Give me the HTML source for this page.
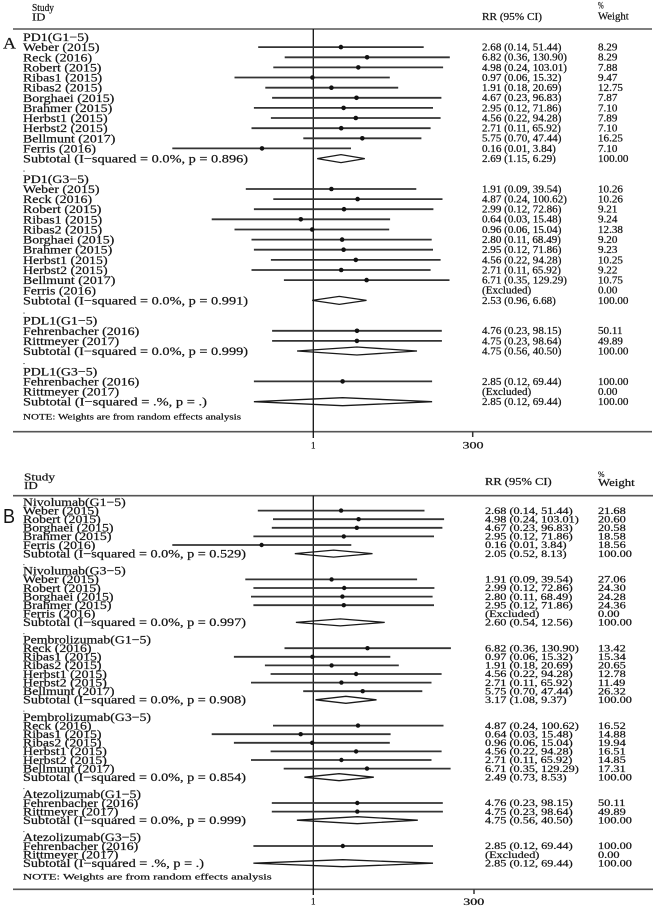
<!DOCTYPE html>
<html><head><meta charset="utf-8">
<style>
html,body{margin:0;padding:0;background:#fff;}
svg{display:block;}
.s{font-family:"Liberation Serif",serif;fill:#141414;stroke:#141414;stroke-width:0.22px;}
.l{font-size:12px;}
.lb{font-size:11.5px;}
.r{font-size:10px;}
.rb{font-size:9.5px;}
.ci{stroke:#333;stroke-width:1.8;}
.dm{fill:none;stroke:#1a1a1a;stroke-width:1.3;}
.rule{stroke:#555;stroke-width:1.6;}
</style></head>
<body>
<svg width="657" height="909" viewBox="0 0 657 909" xmlns="http://www.w3.org/2000/svg">
<rect width="657" height="909" fill="#fff"/>

<!-- ================= PANEL A ================= -->
<text class="s" x="3" y="48.5" font-size="16" textLength="13" lengthAdjust="spacingAndGlyphs">A</text>
<text class="s" x="32" y="11" font-size="11" textLength="22" lengthAdjust="spacingAndGlyphs">Study</text>
<text class="s" x="32" y="20.5" font-size="11" textLength="13.3" lengthAdjust="spacingAndGlyphs">ID</text>
<text class="s" x="482" y="20" font-size="10" textLength="60" lengthAdjust="spacingAndGlyphs">RR (95% CI)</text>
<text class="s" x="598" y="8.5" font-size="9" textLength="5.7" lengthAdjust="spacingAndGlyphs">%</text>
<text class="s" x="598" y="19.5" font-size="10" textLength="30.7" lengthAdjust="spacingAndGlyphs">Weight</text>

<line class="rule" x1="13" y1="29" x2="652" y2="29"/>
<line class="rule" x1="13" y1="431.7" x2="652" y2="431.7"/>
<line x1="313.3" y1="29" x2="313.3" y2="438" stroke="#111" stroke-width="1.3"/>
<line x1="472.7" y1="431.7" x2="472.7" y2="437" stroke="#333" stroke-width="1.5"/>
<text class="s" x="313.3" y="448.5" font-size="9" text-anchor="middle">1</text>
<text class="s" x="462.5" y="448.5" font-size="9" textLength="21" lengthAdjust="spacingAndGlyphs">300</text>

<g transform="translate(23,0) scale(1.16,1)">
<text class="s l" x="0" y="41">PD1(G1−5)</text>
<text class="s l" x="0" y="51.1">Weber (2015)</text>
<text class="s l" x="0" y="61.3">Reck (2016)</text>
<text class="s l" x="0" y="71.4">Robert (2015)</text>
<text class="s l" x="0" y="81.5">Ribas1 (2015)</text>
<text class="s l" x="0" y="91.7">Ribas2 (2015)</text>
<text class="s l" x="0" y="101.8">Borghaei (2015)</text>
<text class="s l" x="0" y="111.9">Brahmer (2015)</text>
<text class="s l" x="0" y="122">Herbst1 (2015)</text>
<text class="s l" x="0" y="132.2">Herbst2 (2015)</text>
<text class="s l" x="0" y="142.3">Bellmunt (2017)</text>
<text class="s l" x="0" y="152.4">Ferris (2016)</text>
<text class="s l" x="0" y="162.6" textLength="194" lengthAdjust="spacingAndGlyphs">Subtotal  (I−squared = 0.0%, p = 0.896)</text>
<text class="s" x="0" y="171.5" font-size="7">.</text>
<text class="s l" x="0" y="182.8">PD1(G3−5)</text>
<text class="s l" x="0" y="193">Weber (2015)</text>
<text class="s l" x="0" y="203.1">Reck (2016)</text>
<text class="s l" x="0" y="213.2">Robert (2015)</text>
<text class="s l" x="0" y="223.3">Ribas1 (2015)</text>
<text class="s l" x="0" y="233.5">Ribas2 (2015)</text>
<text class="s l" x="0" y="243.6">Borghaei (2015)</text>
<text class="s l" x="0" y="253.7">Brahmer (2015)</text>
<text class="s l" x="0" y="263.9">Herbst1 (2015)</text>
<text class="s l" x="0" y="274">Herbst2 (2015)</text>
<text class="s l" x="0" y="284.1">Bellmunt (2017)</text>
<text class="s l" x="0" y="294.3">Ferris (2016)</text>
<text class="s l" x="0" y="304.4" textLength="194" lengthAdjust="spacingAndGlyphs">Subtotal  (I−squared = 0.0%, p = 0.991)</text>
<text class="s" x="0" y="313.5" font-size="7">.</text>
<text class="s l" x="0" y="324.6">PDL1(G1−5)</text>
<text class="s l" x="0" y="334.8">Fehrenbacher (2016)</text>
<text class="s l" x="0" y="344.9">Rittmeyer (2017)</text>
<text class="s l" x="0" y="355" textLength="194" lengthAdjust="spacingAndGlyphs">Subtotal  (I−squared = 0.0%, p = 0.999)</text>
<text class="s" x="0" y="364" font-size="7">.</text>
<text class="s l" x="0" y="375.3">PDL1(G3−5)</text>
<text class="s l" x="0" y="385.4">Fehrenbacher (2016)</text>
<text class="s l" x="0" y="395.6">Rittmeyer (2017)</text>
<text class="s l" x="0" y="405.7" textLength="158.6" lengthAdjust="spacingAndGlyphs">Subtotal  (I−squared = .%, p = .)</text>
</g>
<text class="s" x="23" y="419.5" font-size="8.5" textLength="218" lengthAdjust="spacingAndGlyphs">NOTE: Weights are from random effects analysis</text>

<g transform="translate(482,0) scale(1.11,1)">
<text class="s r" x="0" y="50.5">2.68 (0.14, 51.44)</text>
<text class="s r" x="0" y="60.7">6.82 (0.36, 130.90)</text>
<text class="s r" x="0" y="70.8">4.98 (0.24, 103.01)</text>
<text class="s r" x="0" y="80.9">0.97 (0.06, 15.32)</text>
<text class="s r" x="0" y="91.1">1.91 (0.18, 20.69)</text>
<text class="s r" x="0" y="101.2">4.67 (0.23, 96.83)</text>
<text class="s r" x="0" y="111.3">2.95 (0.12, 71.86)</text>
<text class="s r" x="0" y="121.4">4.56 (0.22, 94.28)</text>
<text class="s r" x="0" y="131.6">2.71 (0.11, 65.92)</text>
<text class="s r" x="0" y="141.7">5.75 (0.70, 47.44)</text>
<text class="s r" x="0" y="151.8">0.16 (0.01, 3.84)</text>
<text class="s r" x="0" y="162">2.69 (1.15, 6.29)</text>
<text class="s r" x="0" y="192.4">1.91 (0.09, 39.54)</text>
<text class="s r" x="0" y="202.5">4.87 (0.24, 100.62)</text>
<text class="s r" x="0" y="212.6">2.99 (0.12, 72.86)</text>
<text class="s r" x="0" y="222.7">0.64 (0.03, 15.48)</text>
<text class="s r" x="0" y="232.9">0.96 (0.06, 15.04)</text>
<text class="s r" x="0" y="243">2.80 (0.11, 68.49)</text>
<text class="s r" x="0" y="253.1">2.95 (0.12, 71.86)</text>
<text class="s r" x="0" y="263.3">4.56 (0.22, 94.28)</text>
<text class="s r" x="0" y="273.4">2.71 (0.11, 65.92)</text>
<text class="s r" x="0" y="283.5">6.71 (0.35, 129.29)</text>
<text class="s r" x="0" y="293.7">(Excluded)</text>
<text class="s r" x="0" y="303.8">2.53 (0.96, 6.68)</text>
<text class="s r" x="0" y="334.2">4.76 (0.23, 98.15)</text>
<text class="s r" x="0" y="344.3">4.75 (0.23, 98.64)</text>
<text class="s r" x="0" y="354.4">4.75 (0.56, 40.50)</text>
<text class="s r" x="0" y="384.8">2.85 (0.12, 69.44)</text>
<text class="s r" x="0" y="395">(Excluded)</text>
<text class="s r" x="0" y="405.1">2.85 (0.12, 69.44)</text>
</g>
<g transform="translate(598,0) scale(1.11,1)">
<text class="s r" x="0" y="50.5">8.29</text>
<text class="s r" x="0" y="60.7">8.29</text>
<text class="s r" x="0" y="70.8">7.88</text>
<text class="s r" x="0" y="80.9">9.47</text>
<text class="s r" x="0" y="91.1">12.75</text>
<text class="s r" x="0" y="101.2">7.87</text>
<text class="s r" x="0" y="111.3">7.10</text>
<text class="s r" x="0" y="121.4">7.89</text>
<text class="s r" x="0" y="131.6">7.10</text>
<text class="s r" x="0" y="141.7">16.25</text>
<text class="s r" x="0" y="151.8">7.10</text>
<text class="s r" x="0" y="162">100.00</text>
<text class="s r" x="0" y="192.4">10.26</text>
<text class="s r" x="0" y="202.5">10.26</text>
<text class="s r" x="0" y="212.6">9.21</text>
<text class="s r" x="0" y="222.7">9.24</text>
<text class="s r" x="0" y="232.9">12.38</text>
<text class="s r" x="0" y="243">9.20</text>
<text class="s r" x="0" y="253.1">9.23</text>
<text class="s r" x="0" y="263.3">10.25</text>
<text class="s r" x="0" y="273.4">9.22</text>
<text class="s r" x="0" y="283.5">10.75</text>
<text class="s r" x="0" y="293.7">0.00</text>
<text class="s r" x="0" y="303.8">100.00</text>
<text class="s r" x="0" y="334.2">50.11</text>
<text class="s r" x="0" y="344.3">49.89</text>
<text class="s r" x="0" y="354.4">100.00</text>
<text class="s r" x="0" y="384.8">100.00</text>
<text class="s r" x="0" y="395">0.00</text>
<text class="s r" x="0" y="405.1">100.00</text>
</g>

<!-- CI lines A -->
<g class="ci">
<line x1="258.2" y1="47.1" x2="423.7" y2="47.1"/>
<line x1="284.7" y1="57.3" x2="449.8" y2="57.3"/>
<line x1="273.3" y1="67.4" x2="443.1" y2="67.4"/>
<line x1="234.5" y1="77.5" x2="389.8" y2="77.5"/>
<line x1="265.3" y1="87.7" x2="398.2" y2="87.7"/>
<line x1="272.1" y1="97.8" x2="441.4" y2="97.8"/>
<line x1="253.9" y1="107.9" x2="433.0" y2="107.9"/>
<line x1="270.9" y1="118.0" x2="440.6" y2="118.0"/>
<line x1="251.5" y1="128.2" x2="430.6" y2="128.2"/>
<line x1="303.3" y1="138.3" x2="421.4" y2="138.3"/>
<line x1="172.3" y1="148.4" x2="351.0" y2="148.4"/>
<line x1="245.8" y1="189.0" x2="416.3" y2="189.0"/>
<line x1="273.3" y1="199.1" x2="442.5" y2="199.1"/>
<line x1="253.9" y1="209.2" x2="433.4" y2="209.2"/>
<line x1="211.7" y1="219.3" x2="390.1" y2="219.3"/>
<line x1="234.5" y1="229.5" x2="389.2" y2="229.5"/>
<line x1="251.5" y1="239.6" x2="431.7" y2="239.6"/>
<line x1="253.9" y1="249.7" x2="433.0" y2="249.7"/>
<line x1="270.9" y1="259.9" x2="440.6" y2="259.9"/>
<line x1="251.5" y1="270.0" x2="430.6" y2="270.0"/>
<line x1="283.9" y1="280.1" x2="449.5" y2="280.1"/>
<line x1="272.1" y1="330.8" x2="441.8" y2="330.8"/>
<line x1="272.1" y1="340.9" x2="441.9" y2="340.9"/>
<line x1="253.9" y1="381.4" x2="432.1" y2="381.4"/>
</g>
<g fill="#111">
<circle cx="340.9" cy="47.1" r="2.3"/>
<circle cx="367.1" cy="57.3" r="2.3"/>
<circle cx="358.3" cy="67.4" r="2.3"/>
<circle cx="312.4" cy="77.5" r="2.3"/>
<circle cx="331.4" cy="87.7" r="2.3"/>
<circle cx="356.5" cy="97.8" r="2.3"/>
<circle cx="343.6" cy="107.9" r="2.3"/>
<circle cx="355.8" cy="118.0" r="2.3"/>
<circle cx="341.2" cy="128.2" r="2.3"/>
<circle cx="362.3" cy="138.3" r="2.3"/>
<circle cx="262.0" cy="148.4" r="2.3"/>
<circle cx="331.4" cy="189.0" r="2.3"/>
<circle cx="357.6" cy="199.1" r="2.3"/>
<circle cx="344.0" cy="209.2" r="2.3"/>
<circle cx="300.8" cy="219.3" r="2.3"/>
<circle cx="312.2" cy="229.5" r="2.3"/>
<circle cx="342.1" cy="239.6" r="2.3"/>
<circle cx="343.6" cy="249.7" r="2.3"/>
<circle cx="355.8" cy="259.9" r="2.3"/>
<circle cx="341.2" cy="270.0" r="2.3"/>
<circle cx="366.6" cy="280.1" r="2.3"/>
<circle cx="357.0" cy="330.8" r="2.3"/>
<circle cx="356.9" cy="340.9" r="2.3"/>
<circle cx="342.6" cy="381.4" r="2.3"/>
</g>
<g class="dm">
<polygon points="317.2,158.6 341.0,154.6 364.8,158.6 341.0,162.6"/>
<polygon points="312.2,300.4 339.3,296.4 366.5,300.4 339.3,304.4"/>
<polygon points="297.1,351.0 356.9,347.0 417.0,351.0 356.9,355.0"/>
<polygon points="253.9,401.7 342.6,397.7 432.1,401.7 342.6,405.7"/>
</g>

<!-- ================= PANEL B ================= -->
<text x="3" y="523" font-family="Liberation Sans, sans-serif" font-size="20" fill="#141414" textLength="12" lengthAdjust="spacingAndGlyphs">B</text>
<text class="s" x="24" y="480.7" font-size="11" textLength="31" lengthAdjust="spacingAndGlyphs">Study</text>
<text class="s" x="24" y="489" font-size="11" textLength="13.7" lengthAdjust="spacingAndGlyphs">ID</text>
<text class="s" x="485" y="485" font-size="10" textLength="66.7" lengthAdjust="spacingAndGlyphs">RR (95% CI)</text>
<text class="s" x="598" y="477" font-size="8.5" textLength="6.5" lengthAdjust="spacingAndGlyphs">%</text>
<text class="s" x="598" y="486" font-size="10" textLength="36.7" lengthAdjust="spacingAndGlyphs">Weight</text>

<line class="rule" x1="13" y1="495.7" x2="653" y2="495.7"/>
<line class="rule" x1="13" y1="889.3" x2="653" y2="889.3"/>
<line x1="313.3" y1="495.7" x2="313.3" y2="895" stroke="#111" stroke-width="1.3"/>
<line x1="474" y1="889.3" x2="474" y2="894" stroke="#333" stroke-width="1.5"/>
<text class="s" x="313.3" y="904.5" font-size="9" text-anchor="middle">1</text>
<text class="s" x="463.3" y="905" font-size="9" textLength="21" lengthAdjust="spacingAndGlyphs">300</text>

<g transform="translate(23,0) scale(1.2,1)">
<text class="s lb" x="0" y="505.8">Nivolumab(G1−5)</text>
<text class="s lb" x="0" y="514.4">Weber (2015)</text>
<text class="s lb" x="0" y="523">Robert (2015)</text>
<text class="s lb" x="0" y="531.6">Borghaei (2015)</text>
<text class="s lb" x="0" y="540.2">Brahmer (2015)</text>
<text class="s lb" x="0" y="548.8">Ferris (2016)</text>
<text class="s lb" x="0" y="557.4" textLength="185.8" lengthAdjust="spacingAndGlyphs">Subtotal  (I−squared = 0.0%, p = 0.529)</text>
<text class="s" x="0" y="565" font-size="6">.</text>
<text class="s lb" x="0" y="574.6">Nivolumab(G3−5)</text>
<text class="s lb" x="0" y="583.2">Weber (2015)</text>
<text class="s lb" x="0" y="591.8">Robert (2015)</text>
<text class="s lb" x="0" y="600.4">Borghaei (2015)</text>
<text class="s lb" x="0" y="609">Brahmer (2015)</text>
<text class="s lb" x="0" y="617.6">Ferris (2016)</text>
<text class="s lb" x="0" y="626.2" textLength="185.8" lengthAdjust="spacingAndGlyphs">Subtotal  (I−squared = 0.0%, p = 0.997)</text>
<text class="s" x="0" y="634" font-size="6">.</text>
<text class="s lb" x="0" y="643.4">Pembrolizumab(G1−5)</text>
<text class="s lb" x="0" y="652">Reck (2016)</text>
<text class="s lb" x="0" y="660.6">Ribas1 (2015)</text>
<text class="s lb" x="0" y="669.2">Ribas2 (2015)</text>
<text class="s lb" x="0" y="677.8">Herbst1 (2015)</text>
<text class="s lb" x="0" y="686.4">Herbst2 (2015)</text>
<text class="s lb" x="0" y="695">Bellmunt (2017)</text>
<text class="s lb" x="0" y="703.6" textLength="185.8" lengthAdjust="spacingAndGlyphs">Subtotal  (I−squared = 0.0%, p = 0.908)</text>
<text class="s" x="0" y="711.4" font-size="6">.</text>
<text class="s lb" x="0" y="720.8">Pembrolizumab(G3−5)</text>
<text class="s lb" x="0" y="729.4">Reck (2016)</text>
<text class="s lb" x="0" y="738">Ribas1 (2015)</text>
<text class="s lb" x="0" y="746.6">Ribas2 (2015)</text>
<text class="s lb" x="0" y="755.2">Herbst1 (2015)</text>
<text class="s lb" x="0" y="763.8">Herbst2 (2015)</text>
<text class="s lb" x="0" y="772.4">Bellmunt (2017)</text>
<text class="s lb" x="0" y="781" textLength="185.8" lengthAdjust="spacingAndGlyphs">Subtotal  (I−squared = 0.0%, p = 0.854)</text>
<text class="s" x="0" y="788.8" font-size="6">.</text>
<text class="s lb" x="0" y="798.2">Atezolizumab(G1−5)</text>
<text class="s lb" x="0" y="806.8">Fehrenbacher (2016)</text>
<text class="s lb" x="0" y="815.4">Rittmeyer (2017)</text>
<text class="s lb" x="0" y="824" textLength="185.8" lengthAdjust="spacingAndGlyphs">Subtotal  (I−squared = 0.0%, p = 0.999)</text>
<text class="s" x="0" y="831.8" font-size="6">.</text>
<text class="s lb" x="0" y="841.2">Atezolizumab(G3−5)</text>
<text class="s lb" x="0" y="849.8">Fehrenbacher (2016)</text>
<text class="s lb" x="0" y="858.4">Rittmeyer (2017)</text>
<text class="s lb" x="0" y="867" textLength="150.8" lengthAdjust="spacingAndGlyphs">Subtotal  (I−squared = .%, p = .)</text>
</g>
<text class="s" x="23" y="879.5" font-size="8.5" textLength="248.7" lengthAdjust="spacingAndGlyphs">NOTE: Weights are from random effects analysis</text>

<g transform="translate(485,0) scale(1.29,1)">
<text class="s rb" x="0" y="513.8">2.68 (0.14, 51.44)</text>
<text class="s rb" x="0" y="522.4">4.98 (0.24, 103.01)</text>
<text class="s rb" x="0" y="531">4.67 (0.23, 96.83)</text>
<text class="s rb" x="0" y="539.6">2.95 (0.12, 71.86)</text>
<text class="s rb" x="0" y="548.2">0.16 (0.01, 3.84)</text>
<text class="s rb" x="0" y="556.8">2.05 (0.52, 8.13)</text>
<text class="s rb" x="0" y="582.6">1.91 (0.09, 39.54)</text>
<text class="s rb" x="0" y="591.2">2.99 (0.12, 72.86)</text>
<text class="s rb" x="0" y="599.8">2.80 (0.11, 68.49)</text>
<text class="s rb" x="0" y="608.4">2.95 (0.12, 71.86)</text>
<text class="s rb" x="0" y="617">(Excluded)</text>
<text class="s rb" x="0" y="625.6">2.60 (0.54, 12.56)</text>
<text class="s rb" x="0" y="651.4">6.82 (0.36, 130.90)</text>
<text class="s rb" x="0" y="660">0.97 (0.06, 15.32)</text>
<text class="s rb" x="0" y="668.6">1.91 (0.18, 20.69)</text>
<text class="s rb" x="0" y="677.2">4.56 (0.22, 94.28)</text>
<text class="s rb" x="0" y="685.8">2.71 (0.11, 65.92)</text>
<text class="s rb" x="0" y="694.4">5.75 (0.70, 47.44)</text>
<text class="s rb" x="0" y="703">3.17 (1.08, 9.37)</text>
<text class="s rb" x="0" y="728.8">4.87 (0.24, 100.62)</text>
<text class="s rb" x="0" y="737.4">0.64 (0.03, 15.48)</text>
<text class="s rb" x="0" y="746">0.96 (0.06, 15.04)</text>
<text class="s rb" x="0" y="754.6">4.56 (0.22, 94.28)</text>
<text class="s rb" x="0" y="763.2">2.71 (0.11, 65.92)</text>
<text class="s rb" x="0" y="771.8">6.71 (0.35, 129.29)</text>
<text class="s rb" x="0" y="780.4">2.49 (0.73, 8.53)</text>
<text class="s rb" x="0" y="806.2">4.76 (0.23, 98.15)</text>
<text class="s rb" x="0" y="814.8">4.75 (0.23, 98.64)</text>
<text class="s rb" x="0" y="823.4">4.75 (0.56, 40.50)</text>
<text class="s rb" x="0" y="849.2">2.85 (0.12, 69.44)</text>
<text class="s rb" x="0" y="857.8">(Excluded)</text>
<text class="s rb" x="0" y="866.4">2.85 (0.12, 69.44)</text>
</g>
<g transform="translate(598,0) scale(1.3,1)">
<text class="s rb" x="0" y="513.8">21.68</text>
<text class="s rb" x="0" y="522.4">20.60</text>
<text class="s rb" x="0" y="531">20.58</text>
<text class="s rb" x="0" y="539.6">18.58</text>
<text class="s rb" x="0" y="548.2">18.56</text>
<text class="s rb" x="0" y="556.8">100.00</text>
<text class="s rb" x="0" y="582.6">27.06</text>
<text class="s rb" x="0" y="591.2">24.30</text>
<text class="s rb" x="0" y="599.8">24.28</text>
<text class="s rb" x="0" y="608.4">24.36</text>
<text class="s rb" x="0" y="617">0.00</text>
<text class="s rb" x="0" y="625.6">100.00</text>
<text class="s rb" x="0" y="651.4">13.42</text>
<text class="s rb" x="0" y="660">15.34</text>
<text class="s rb" x="0" y="668.6">20.65</text>
<text class="s rb" x="0" y="677.2">12.78</text>
<text class="s rb" x="0" y="685.8">11.49</text>
<text class="s rb" x="0" y="694.4">26.32</text>
<text class="s rb" x="0" y="703">100.00</text>
<text class="s rb" x="0" y="728.8">16.52</text>
<text class="s rb" x="0" y="737.4">14.88</text>
<text class="s rb" x="0" y="746">19.94</text>
<text class="s rb" x="0" y="754.6">16.51</text>
<text class="s rb" x="0" y="763.2">14.85</text>
<text class="s rb" x="0" y="771.8">17.31</text>
<text class="s rb" x="0" y="780.4">100.00</text>
<text class="s rb" x="0" y="806.2">50.11</text>
<text class="s rb" x="0" y="814.8">49.89</text>
<text class="s rb" x="0" y="823.4">100.00</text>
<text class="s rb" x="0" y="849.2">100.00</text>
<text class="s rb" x="0" y="857.8">0.00</text>
<text class="s rb" x="0" y="866.4">100.00</text>
</g>

<g class="ci">
<line x1="257.8" y1="510.6" x2="424.5" y2="510.6"/>
<line x1="273.0" y1="519.2" x2="444.1" y2="519.2"/>
<line x1="271.8" y1="527.8" x2="442.4" y2="527.8"/>
<line x1="253.4" y1="536.4" x2="434.0" y2="536.4"/>
<line x1="172.3" y1="545.0" x2="351.3" y2="545.0"/>
<line x1="245.3" y1="579.4" x2="417.1" y2="579.4"/>
<line x1="253.4" y1="588.0" x2="434.4" y2="588.0"/>
<line x1="251.0" y1="596.6" x2="432.6" y2="596.6"/>
<line x1="253.4" y1="605.2" x2="434.0" y2="605.2"/>
<line x1="284.5" y1="648.2" x2="450.9" y2="648.2"/>
<line x1="233.9" y1="656.8" x2="390.3" y2="656.8"/>
<line x1="264.9" y1="665.4" x2="398.8" y2="665.4"/>
<line x1="270.6" y1="674.0" x2="441.6" y2="674.0"/>
<line x1="251.0" y1="682.6" x2="431.5" y2="682.6"/>
<line x1="303.2" y1="691.2" x2="422.3" y2="691.2"/>
<line x1="273.0" y1="725.6" x2="443.5" y2="725.6"/>
<line x1="211.7" y1="734.2" x2="390.6" y2="734.2"/>
<line x1="233.9" y1="742.8" x2="389.8" y2="742.8"/>
<line x1="270.6" y1="751.4" x2="441.6" y2="751.4"/>
<line x1="251.0" y1="760.0" x2="431.5" y2="760.0"/>
<line x1="283.7" y1="768.6" x2="450.6" y2="768.6"/>
<line x1="271.8" y1="803.0" x2="442.8" y2="803.0"/>
<line x1="271.8" y1="811.6" x2="442.9" y2="811.6"/>
<line x1="253.4" y1="846.0" x2="433.0" y2="846.0"/>
</g>
<g fill="#111">
<circle cx="341.1" cy="510.6" r="2.2"/>
<circle cx="358.6" cy="519.2" r="2.2"/>
<circle cx="356.8" cy="527.8" r="2.2"/>
<circle cx="343.8" cy="536.4" r="2.2"/>
<circle cx="261.6" cy="545.0" r="2.2"/>
<circle cx="331.6" cy="579.4" r="2.2"/>
<circle cx="344.2" cy="588.0" r="2.2"/>
<circle cx="342.4" cy="596.6" r="2.2"/>
<circle cx="343.8" cy="605.2" r="2.2"/>
<circle cx="367.5" cy="648.2" r="2.2"/>
<circle cx="312.4" cy="656.8" r="2.2"/>
<circle cx="331.6" cy="665.4" r="2.2"/>
<circle cx="356.1" cy="674.0" r="2.2"/>
<circle cx="341.4" cy="682.6" r="2.2"/>
<circle cx="362.7" cy="691.2" r="2.2"/>
<circle cx="358.0" cy="725.6" r="2.2"/>
<circle cx="300.7" cy="734.2" r="2.2"/>
<circle cx="312.2" cy="742.8" r="2.2"/>
<circle cx="356.1" cy="751.4" r="2.2"/>
<circle cx="341.4" cy="760.0" r="2.2"/>
<circle cx="367.0" cy="768.6" r="2.2"/>
<circle cx="357.3" cy="803.0" r="2.2"/>
<circle cx="357.3" cy="811.6" r="2.2"/>
<circle cx="342.8" cy="846.0" r="2.2"/>
</g>
<g class="dm">
<polygon points="294.8,553.6 333.6,550.1 372.5,553.6 333.6,557.1"/>
<polygon points="295.9,622.4 340.3,618.9 384.7,622.4 340.3,625.9"/>
<polygon points="315.5,699.8 345.9,696.3 376.5,699.8 345.9,703.3"/>
<polygon points="304.4,777.2 339.1,773.7 373.8,777.2 339.1,780.7"/>
<polygon points="296.9,820.2 357.3,816.7 417.8,820.2 357.3,823.7"/>
<polygon points="253.4,863.2 342.8,859.7 433.0,863.2 342.8,866.7"/>
</g>
</svg>
</body></html>
